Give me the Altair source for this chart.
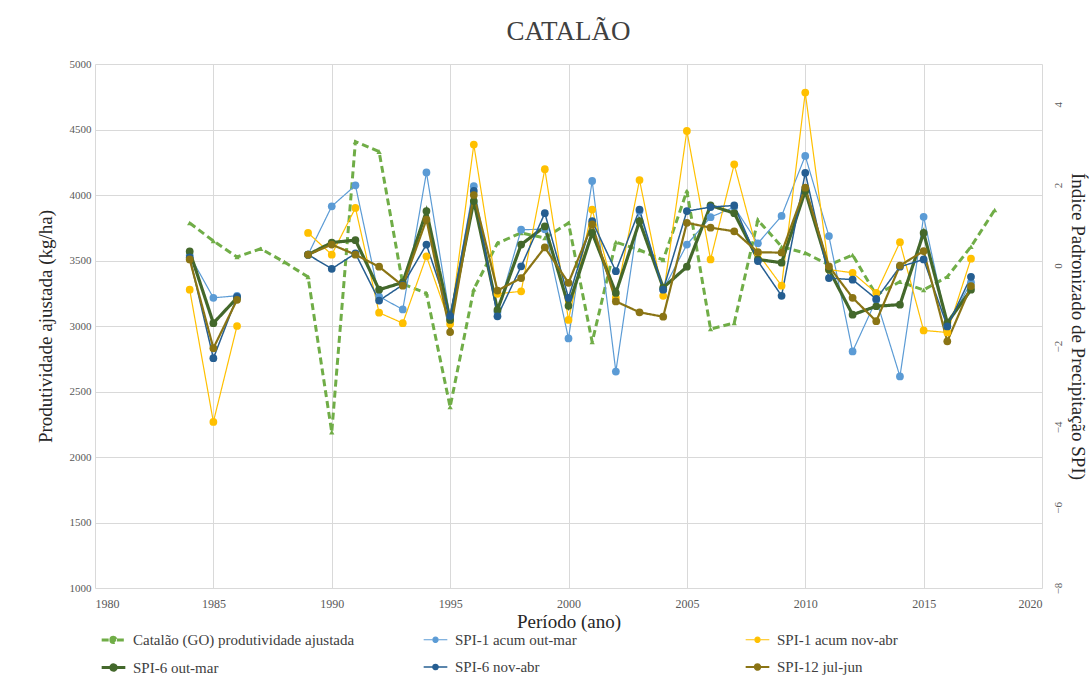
import altair as alt
import pandas as pd

# ---------------- data ----------------
prod_years = list(range(1984, 2019))
prod_values = [3786, 3649, 3527, 3590, 3488, 3374, 2190, 4407, 4331, 3320,
               3250, 2382, 3280, 3633, 3710, 3672, 3786, 2878, 3640, 3580,
               3504, 4030, 2977, 3023, 3809, 3605, 3557, 3466, 3542, 3237,
               3338, 3275, 3376, 3605, 3885]

spi_years = [1984, 1985, 1986] + list(range(1989, 2018))
spi1_outmar = [0.25, -0.8, -0.75,
               0.27, 1.47, 1.99, -0.77, -1.09, 2.31, -1.3, 1.97, -1.15, 0.89,
               0.9, -1.81, 2.1, -2.63, 1.35, -0.6, 0.52, 1.2, 1.45, 0.55,
               1.23, 2.72, 0.73, -2.13, -0.85, -2.75, 1.21, -1.5, -0.42]
spi1_novabr = [-0.6, -3.88, -1.5,
               0.81, 0.27, 1.43, -1.17, -1.43, 0.23, -1.45, 3.0, -0.7, -0.64,
               2.39, -1.35, 1.39, -0.8, 2.12, -0.75, 3.34, 0.15, 2.51, 0.3,
               -0.5, 4.29, -0.1, -0.18, -0.68, 0.58, -1.61, -1.66, 0.17]
spi6_outmar = [0.35, -1.43, -0.8,
               0.27, 0.57, 0.63, -0.6, -0.42, 1.35, -1.35, 1.6, -1.1, 0.52,
               0.97, -1.0, 0.81, -0.68, 1.1, -0.55, -0.03, 1.49, 1.3, 0.15,
               0.07, 1.85, -0.1, -1.22, -1.01, -0.97, 0.81, -1.42, -0.6]
spi6_novabr = [0.2, -2.3, -0.78,
               0.27, -0.08, 0.3, -0.87, -0.48, 0.52, -1.25, 1.85, -1.26, -0.02,
               1.3, -0.8, 1.1, -0.14, 1.39, -0.6, 1.35, 1.45, 1.49, 0.11,
               -0.75, 2.3, -0.31, -0.35, -0.83, -0.03, 0.15, -1.51, -0.28]
spi12_juljun = [0.15, -2.05, -0.85,
                0.27, 0.52, 0.27, -0.03, -0.5, 1.14, -1.65, 1.75, -0.62, -0.31,
                0.45, -0.43, 1.02, -0.89, -1.16, -1.27, 1.06, 0.94, 0.85, 0.33,
                0.32, 1.93, -0.02, -0.8, -1.38, 0.0, 0.36, -1.88, -0.51]

series_names = ["Catalão (GO) produtividade ajustada", "SPI-1 acum out-mar",
                "SPI-1 acum nov-abr", "SPI-6 out-mar", "SPI-6 nov-abr",
                "SPI-12 jul-jun"]
series_colors = ["#70AD47", "#5B9BD5", "#FFC000", "#43682B", "#255E91", "#8A7414"]
series_dash = [[7, 4], [1, 0], [1, 0], [1, 0], [1, 0], [1, 0]]
series_width = [3, 1.2, 1.2, 3.2, 1.5, 2.2]

x_ticks = list(range(1980, 2021, 5))
left_ticks = list(range(1000, 5001, 500))
right_ticks = [-8, -6, -4, -2, 0, 2, 4]

# legend is filled column by column: reorder so rows read as in the reference
legend_order = [0, 3, 1, 4, 2, 5]
dom = [series_names[i] for i in legend_order]
col_range = [series_colors[i] for i in legend_order]
dash_range = [series_dash[i] for i in legend_order]
width_range = [series_width[i] for i in legend_order]

# ---------------- tables ----------------
df_prod = pd.DataFrame({"ano": prod_years, "valor": prod_values,
                        "serie": series_names[0], "trecho": 0})
spi_lists = [spi1_outmar, spi1_novabr, spi6_outmar, spi6_novabr, spi12_juljun]
rows = []
for name, vals in zip(series_names[1:], spi_lists):
    for yr, v in zip(spi_years, vals):
        rows.append({"ano": yr, "valor": v, "serie": name,
                     "trecho": 0 if yr < 1987 else 1})
df_spi = pd.DataFrame(rows)

SERIF = "Liberation Serif"

legend = alt.Legend(
    title=None, orient="none", legendX=5, legendY=562, columns=3,
    gridAlign="all", columnPadding=64, rowPadding=5,
    symbolType="M-1,0L-0.28,0M0.28,0L1,0M-0.22,0A0.22,0.22,0,1,1,0.22,0A0.22,0.22,0,1,1,-0.22,0",
    symbolSize=560, labelFont=SERIF, labelFontSize=15, labelColor="#404040",
    labelLimit=400, symbolOffset=0, labelOffset=6,
)
color = alt.Color("serie:N", scale=alt.Scale(domain=dom, range=col_range), legend=legend)
dash = alt.StrokeDash("serie:N", scale=alt.Scale(type="ordinal", domain=dom, range=dash_range),
                      legend=legend)
width = alt.StrokeWidth("serie:N", scale=alt.Scale(type="ordinal", domain=dom, range=width_range),
                        legend=legend)

x = alt.X("ano:Q", scale=alt.Scale(domain=[1980, 2020], nice=False),
          axis=alt.Axis(values=x_ticks, format="d", title="Período (ano)",
                        grid=True, gridColor="#D9D9D9", domain=False, ticks=False,
                        labelFont=SERIF, labelFontSize=12, labelColor="#595959",
                        labelPadding=10, titleFont=SERIF, titleFontSize=19,
                        titleFontWeight="normal", titleColor="#262626",
                        titlePadding=3))

y_left = alt.Y("valor:Q", scale=alt.Scale(domain=[1000, 5000], nice=False, zero=False),
               axis=alt.Axis(values=left_ticks, format="d",
                             title="Produtividade ajustada  (kg/ha)",
                             grid=True, gridColor="#D9D9D9", domain=False, ticks=False,
                             labelFont=SERIF, labelFontSize=11, labelColor="#595959",
                             labelPadding=4, titleFont=SERIF, titleFontSize=19,
                             titleFontWeight="normal", titleColor="#262626",
                             titlePadding=14))
y_right = alt.Y("valor:Q", scale=alt.Scale(domain=[-8, 5], nice=False, zero=False),
                axis=alt.Axis(values=right_ticks, orient="right",
                              title="Índice  Padronizado  de Precipitação  SPI)",
                              grid=False, domain=False, ticks=False,
                              labelFont=SERIF, labelFontSize=11, labelColor="#595959",
                              labelAngle=270, labelPadding=10, titleFont=SERIF,
                              titleFontSize=19, titleFontWeight="normal",
                              titleColor="#262626", titlePadding=4))

prod_line = alt.Chart(df_prod).mark_line().encode(
    x=x, y=y_left, color=color, strokeDash=dash, strokeWidth=width)
prod_pts = alt.Chart(df_prod).mark_point(shape="triangle-up", filled=True, size=28,
                                         opacity=1).encode(x=x, y=y_left, color=color)
left = alt.layer(prod_line, prod_pts)

spi_line = alt.Chart(df_spi).mark_line().encode(
    x=x, y=y_right, color=color, strokeDash=dash, strokeWidth=width,
    detail="trecho:N")
spi_pts = alt.Chart(df_spi).mark_circle(size=60, opacity=1).encode(
    x=x, y=y_right, color=color)
right = alt.layer(spi_line, spi_pts)

chart = alt.layer(left, right).resolve_scale(y="independent").properties(
    width=947, height=524,
    title=alt.TitleParams("CATALÃO", font=SERIF, fontSize=27, fontWeight="normal",
                          color="#404040", anchor="middle", offset=12),
    autosize=alt.AutoSizeParams(type="none"),
    padding={"left": 95, "top": 64, "right": 49, "bottom": 94},
).configure(background="white", font=SERIF).configure_view(stroke=None)

chart.save("out.html", embed_options={"renderer": "svg", "actions": False})
